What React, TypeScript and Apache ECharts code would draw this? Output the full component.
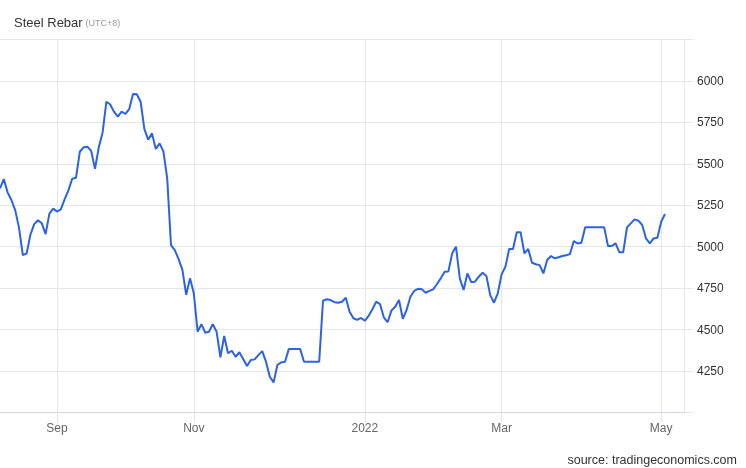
import React, { useEffect, useRef } from 'react';
import * as echarts from 'echarts';

// Steel Rebar daily closes (CNY/T), one value per trading day
const aug2021 = [5352, 5408, 5328, 5282, 5221, 5115, 4950, 4958, 5072, 5136, 5160, 5141, 5076, 5200, 5230];
const sep2021 = [5212, 5225, 5286, 5340, 5410, 5416, 5573, 5600, 5603, 5578, 5470, 5600, 5690, 5875, 5858, 5815, 5785, 5815, 5801, 5830];
const oct2021 = [5922, 5920, 5875, 5710, 5646, 5684, 5590, 5624, 5575, 5413, 5010, 4980, 4925, 4860, 4710, 4809];
const nov2021 = [4719, 4487, 4533, 4481, 4487, 4533, 4487, 4332, 4461, 4357, 4372, 4336, 4363, 4322, 4280, 4316, 4320, 4346, 4370, 4306, 4215, 4181];
const dec2021 = [4286, 4302, 4306, 4382, 4382, 4382, 4382, 4306, 4306, 4306, 4306, 4306, 4674, 4683, 4678, 4665, 4662, 4668, 4692, 4608, 4568, 4558, 4570];
const jan2022 = [4553, 4582, 4622, 4668, 4654, 4574, 4544, 4614, 4638, 4678, 4565, 4618, 4698, 4733, 4746, 4743, 4722, 4733, 4743];
const feb2022 = [4775, 4809, 4849, 4851, 4960, 5000, 4809, 4739, 4839, 4787, 4789, 4819, 4843, 4823, 4708, 4662, 4719];
const mar2022 = [4833, 4879, 4986, 4986, 5087, 5087, 4960, 4986, 4903, 4894, 4889, 4839, 4920, 4944, 4930, 4936, 4944, 4948, 4956, 5034, 5020, 5024, 5117];
const apr2022 = [5117, 5117, 5117, 5117, 5117, 5004, 5004, 5020, 4966, 4966, 5117, 5141, 5165, 5157, 5131, 5050, 5020, 5050, 5054];
const may2022 = [5151, 5197];

// x-axis tick labels and the trading-day index each sits on
const tickLabels = ['Sep', 'Nov', '2022', 'Mar', 'May'];
const tickIndex = [15, 51, 96, 132, 174];
const emptySlotsAfter = 5;

// y-axis
const yMin = 4000;
const yMax = 6250;
const yStep = 250;
const yHiddenLabels = [4000, 6250];

const FONT = "'Liberation Sans', Arial, sans-serif";

export default function App() {
  const ref = useRef<HTMLDivElement>(null);

  useEffect(() => {
    if (!ref.current) return;
    const chart = echarts.init(ref.current, null, { renderer: 'svg' });
    const values = [
      ...aug2021, ...sep2021, ...oct2021, ...nov2021, ...dec2021,
      ...jan2022, ...feb2022, ...mar2022, ...apr2022, ...may2022,
    ];
    const categories = Array.from({ length: values.length + emptySlotsAfter }, (_, i) => String(i));
    const isTick = (i: number) => tickIndex.includes(i);

    chart.setOption({
      animation: false,
      grid: { left: 0, right: 62, top: 39.6, bottom: 55.6, containLabel: false },
      xAxis: {
        type: 'category',
        data: categories,
        boundaryGap: false,
        axisLine: { show: true, lineStyle: { color: '#ccd6eb', width: 1 } },
        axisTick: { show: true, length: 10, interval: (i: number) => isTick(i), lineStyle: { color: '#e6e6e6' } },
        splitLine: { show: true, interval: (i: number) => isTick(i), lineStyle: { color: '#e6e6e6', width: 1 } },
        axisLabel: {
          interval: (i: number) => isTick(i),
          formatter: (_v: string, i: number) => {
            const k = tickIndex.indexOf(i);
            return k >= 0 ? tickLabels[k] : '';
          },
          color: '#666666',
          fontSize: 12,
          fontFamily: FONT,
          margin: 10,
        },
      },
      yAxis: {
        type: 'value',
        position: 'right',
        min: yMin,
        max: yMax,
        interval: yStep,
        axisLine: { show: true, lineStyle: { color: '#e6e6e6' } },
        axisTick: { show: true, length: 9, lineStyle: { color: '#e6e6e6' } },
        splitLine: { show: true, lineStyle: { color: '#e6e6e6', width: 1 } },
        axisLabel: {
          margin: 13,
          color: '#333333',
          fontSize: 12,
          fontFamily: FONT,
          formatter: (v: number) => (yHiddenLabels.includes(v) ? '' : String(v)),
        },
      },
      series: [
        {
          type: 'line',
          data: values,
          symbol: 'none',
          showSymbol: false,
          clip: true,
          lineStyle: { color: '#2b62e6', width: 2 },
        },
      ],
      graphic: [
        {
          type: 'text', x: 14, y: 22,
          style: { text: 'Steel Rebar', fontSize: 13, fontFamily: FONT, fill: '#333333', align: 'left', verticalAlign: 'middle' },
        },
        {
          type: 'text', x: 85.5, y: 23,
          style: { text: '(UTC+8)', fontSize: 9, fontFamily: FONT, fill: '#999999', align: 'left', verticalAlign: 'middle' },
        },
        {
          type: 'text', x: 737, y: 460,
          style: { text: 'source: tradingeconomics.com', fontSize: 12.5, fontFamily: FONT, fill: '#333333', align: 'right', verticalAlign: 'middle' },
        },
      ],
    });
    return () => chart.dispose();
  }, []);

  return <div ref={ref} style={{ position: 'fixed', left: 0, top: 0, width: 746, height: 468 }} />;
}
